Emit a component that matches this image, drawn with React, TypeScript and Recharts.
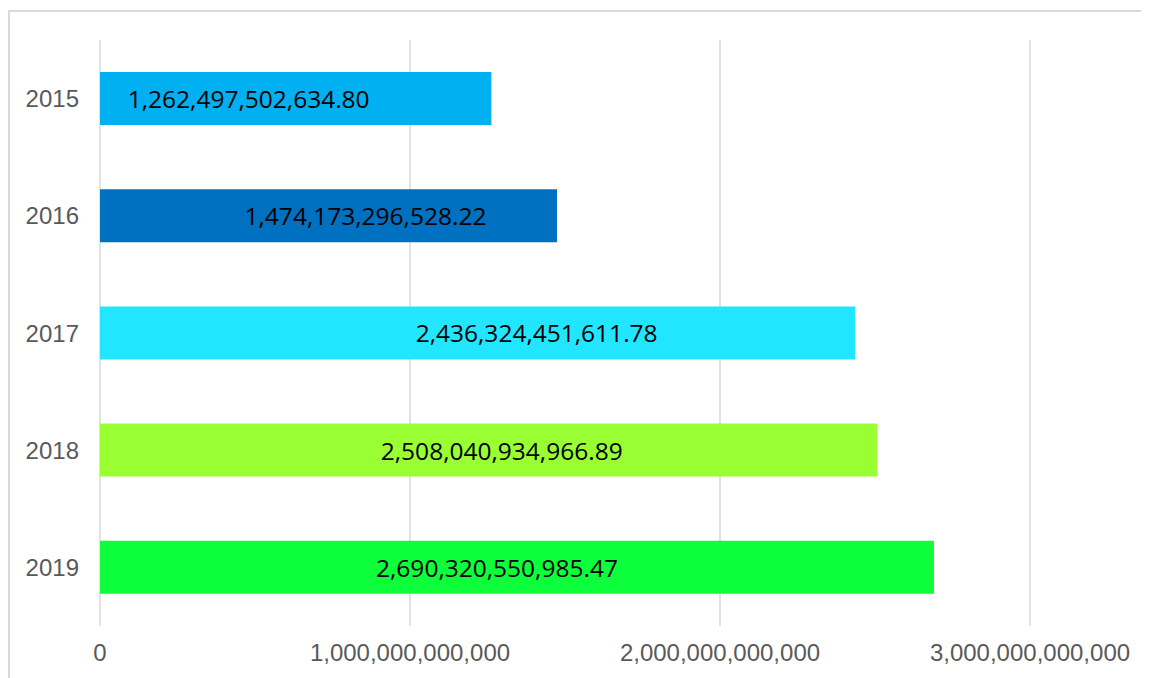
import { BarChart, Bar, Cell, XAxis, YAxis, CartesianGrid, LabelList } from "recharts";

const YEARS = ["2015", "2016", "2017", "2018", "2019"];
const AMOUNTS = [
  1262497502634.8, 1474173296528.22, 2436324451611.78, 2508040934966.89,
  2690320550985.47,
];
const X_TICKS = [0, 1000000000000, 2000000000000, 3000000000000];

const COLORS = ["#00B0F0", "#0070C0", "#22E6FF", "#99FF33", "#0CFF3A"];
// labels in the original were nudged sideways by hand
const LABEL_NUDGE = [-47, 37, 59, 13, -20];

const data = YEARS.map((year, i) => ({ year, amount: AMOUNTS[i] }));

const fmtTick = (v: number) => v.toLocaleString("en-US");
const fmtLabel = (v: number) =>
  v.toLocaleString("en-US", { minimumFractionDigits: 2, maximumFractionDigits: 2 });

function BarLabel(props: any) {
  const { x, y, width, height, value, index } = props;
  return (
    <text
      x={x + width / 2 + (LABEL_NUDGE[index] || 0)}
      y={y + height / 2}
      textAnchor="middle"
      dominantBaseline="central"
      fontFamily="'Open Sans', sans-serif"
      fontSize={24.5}
      fill="#000"
    >
      {fmtLabel(value)}
    </text>
  );
}

const axisTick = {
  fill: "#595959",
  fontSize: 24,
  fontFamily: "'Liberation Sans', Arial, sans-serif",
};

export default function App() {
  return (
    <div
      style={{
        marginTop: 2,
        width: 1180,
        height: 666,
        borderTop: "2px solid #d9d9d9",
        borderLeft: "2px solid #d9d9d9",
        background: "#fff",
      }}
    >
      <style>{"html{overflow:hidden}"}</style>
      <BarChart
        width={1139}
        height={666}
        data={data}
        layout="vertical"
        margin={{ top: 28, right: 119, left: 10, bottom: 0 }}
      >
        <CartesianGrid horizontal={false} stroke="#d9d9d9" strokeWidth={1.5} />
        <XAxis
          type="number"
          domain={[0, 3000000000000]}
          ticks={X_TICKS}
          tickFormatter={fmtTick}
          axisLine={false}
          tickLine={false}
          tickMargin={12}
          height={52}
          interval={0}
          tick={axisTick}
        />
        <YAxis
          type="category"
          dataKey="year"
          width={80}
          axisLine={false}
          tickLine={false}
          tickMargin={15}
          tick={axisTick}
        />
        <Bar dataKey="amount" barSize={53} isAnimationActive={false}>
          {data.map((d, i) => (
            <Cell key={d.year} fill={COLORS[i]} />
          ))}
          <LabelList dataKey="amount" content={BarLabel} />
        </Bar>
      </BarChart>
    </div>
  );
}
